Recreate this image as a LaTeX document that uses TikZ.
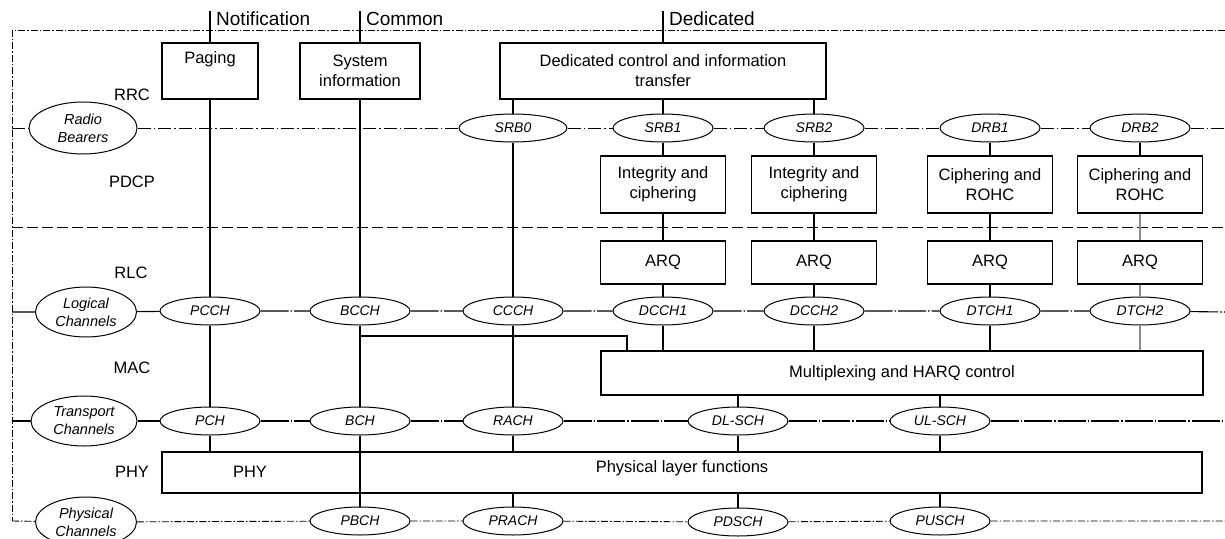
\documentclass[tikz,border=0pt]{standalone}
\usepackage{fontspec}
\setmainfont{Liberation Sans}
\usetikzlibrary{shapes.geometric}
\begin{document}
\begin{tikzpicture}[x=1pt,y=-1pt,
  blk/.style={draw, line width=1.3pt, align=center, inner sep=0pt, font=\fontsize{16.5}{20}\selectfont},
  ch/.style={draw, ellipse, fill=white, line width=1pt, minimum width=100pt, minimum height=28pt, inner sep=0pt, font=\fontsize{14}{17}\selectfont\itshape},
  grp/.style={ch, minimum width=106pt, minimum height=50pt, align=center, font=\fontsize{14.5}{18}\selectfont\itshape},
  lay/.style={inner sep=0pt, font=\fontsize{16.5}{20}\selectfont},
  toplab/.style={anchor=west, inner sep=0pt, font=\fontsize{19}{22}\selectfont},
  conn/.style={line width=1.2pt},
  greyconn/.style={line width=1.2pt, draw=black!45},
  bord/.style={line width=0.9pt, dash pattern=on 7pt off 2pt on 1.5pt off 2pt},
  rbl/.style={line width=1pt, dash pattern=on 13pt off 3pt on 1.5pt off 3pt},
  pdl/.style={line width=1pt, dash pattern=on 11pt off 4pt},
  chl/.style={line width=1.1pt, dash pattern=on 28pt off 2pt on 1.5pt off 2pt}]
\useasboundingbox (0,0) rectangle (1225,538);
\fill[white] (0,0) rectangle (1225,538);

% RRC boxes
\node[blk, minimum width=96pt, minimum height=56pt] (paging) at (210,71) {Paging\\\strut};
\node[blk, minimum width=120pt, minimum height=56pt] (sysinfo) at (360,71) {System\\information};
\node[blk, minimum width=326pt, minimum height=56pt] (ded) at (663,71) {Dedicated control and information\\transfer};

% PDCP boxes
\node[blk, minimum width=125pt, minimum height=57pt] (integ1) at (663,184.5) {Integrity and\\ciphering};
\node[blk, minimum width=125pt, minimum height=57pt] (integ2) at (814,184.5) {Integrity and\\ciphering};
\node[blk, minimum width=125pt, minimum height=57pt] (ciph1) at (990,184.5) {Ciphering and\\ROHC};
\node[blk, minimum width=125pt, minimum height=57pt] (ciph2) at (1140,184.5) {Ciphering and\\ROHC};

% RLC boxes
\node[blk, minimum width=125pt, minimum height=43pt] (arq1) at (663,262.5) {ARQ};
\node[blk, minimum width=125pt, minimum height=43pt] (arq2) at (814,262.5) {ARQ};
\node[blk, minimum width=125pt, minimum height=43pt] (arq3) at (990,262.5) {ARQ};
\node[blk, minimum width=125pt, minimum height=43pt] (arq4) at (1140,262.5) {ARQ};

% MAC / PHY boxes
\node[blk, minimum width=602pt, minimum height=44pt] (mux) at (902,373) {Multiplexing and HARQ control};
\node[blk, minimum width=1040pt, minimum height=41pt] (phy) at (682,472.5) {};
\node[lay] (phyin) at (250,472) {PHY};
\node[lay] (phyfn) at (682,468) {Physical layer functions};

% layer labels
\node[lay] (rrc) at (132,95) {RRC};
\node[lay] (pdcp) at (132,182) {PDCP};
\node[lay] (rlc) at (131,273) {RLC};
\node[lay] (mac) at (132,368) {MAC};
\node[lay] (phyl) at (132,472) {PHY};

% top labels
\node[toplab] (tn) at (216,19) {Notification};
\node[toplab] (tc) at (366,19) {Common};
\node[toplab] (td) at (669,19) {Dedicated};

% group ellipses
\node[grp, minimum width=108pt, minimum height=52pt] (rb) at (83,128) {Radio\\Bearers};
\node[grp, minimum width=101pt] (lc) at (86,312) {Logical\\Channels};
\node[grp] (tch) at (84,421) {Transport\\Channels};
\node[grp, minimum width=101pt] (pc) at (86,522) {Physical\\Channels};

% radio bearers
\node[ch, minimum width=108pt] (srb0) at (513,128) {SRB0};
\node[ch] (srb1) at (663,128) {SRB1};
\node[ch] (srb2) at (814,128) {SRB2};
\node[ch] (drb1) at (990,128) {DRB1};
\node[ch] (drb2) at (1140,128) {DRB2};

% logical channels
\node[ch] (pcch) at (210,311) {PCCH};
\node[ch] (bcch) at (360,311) {BCCH};
\node[ch] (ccch) at (513,311) {CCCH};
\node[ch] (dcch1) at (663,311) {DCCH1};
\node[ch] (dcch2) at (814,311) {DCCH2};
\node[ch] (dtch1) at (990,311) {DTCH1};
\node[ch] (dtch2) at (1140,311) {DTCH2};

% transport channels
\node[ch] (pch) at (210,421) {PCH};
\node[ch] (bch) at (360,421) {BCH};
\node[ch] (rach) at (513,421) {RACH};
\node[ch] (dlsch) at (738,421) {DL-SCH};
\node[ch] (ulsch) at (940,421) {UL-SCH};

% physical channels
\node[ch] (pbch) at (360,521) {PBCH};
\node[ch] (prach) at (513,521) {PRACH};
\node[ch] (pdsch) at (738,522) {PDSCH};
\node[ch] (pusch) at (940,521) {PUSCH};

% frame and layer lines
\coordinate (tl) at (12,30);
\coordinate (tr) at (1225,30);
\coordinate (bl) at (12,521);
\coordinate (br) at (1225,521);
\draw[bord] (tr) -- (tl) -- (bl);
\draw[bord] (bl) -- (pc) -- (pbch) -- (prach) -- (pdsch) -- (pusch) -- (br);

\coordinate (rbL) at (12,128);
\coordinate (rbR) at (1225,128);
\draw[rbl] (rbL) -- (rb) -- (srb0) -- (srb1) -- (srb2) -- (drb1) -- (drb2) -- (rbR);

\coordinate (pdL) at (12,227);
\coordinate (pdR) at (1225,227);
\draw[pdl] (pdL) -- (pdR);

\coordinate (lcL) at (12,312);
\coordinate (lcR) at (1225,312);
\draw[chl] (lcL) -- (lc) -- (pcch) -- (bcch) -- (ccch) -- (dcch1) -- (dcch2) -- (dtch1) -- (dtch2) -- (lcR);

\coordinate (tcL) at (12,421);
\coordinate (tcR) at (1225,421);
\draw[chl] (tcL) -- (tch) -- (pch) -- (bch) -- (rach) -- (dlsch) -- (ulsch) -- (tcR);

% Notification column
\coordinate (nT) at (210,11);
\draw[conn] (nT) -- (paging.north);
\draw[conn] (paging.south) -- (pcch.north);
\draw[conn] (pcch) -- (pch);
\draw[conn] (pch) -- (pch |- phy.north);

% Common column
\coordinate (cT) at (360,11);
\draw[conn] (cT) -- (sysinfo.north);
\draw[conn] (sysinfo.south) -- (bcch.north);
\draw[conn] (bcch) -- (bch);
\draw[conn] (bch) -- (pbch);
\coordinate (elb) at (627,336);
\draw[conn] (bcch.south |- elb) -- (elb) -- (elb |- mux.north);

% Dedicated column
\coordinate (dT) at (663,11);
\draw[conn] (dT) -- (ded.north);
\draw[conn] (ded.south -| srb0) -- (srb0.north);
\draw[conn] (ded.south) -- (srb1.north);
\draw[conn] (ded.south -| srb2) -- (srb2.north);
\draw[conn] (srb0) -- (ccch);
\draw[conn] (ccch) -- (rach);
\draw[conn] (rach) -- (rach |- phy.north);
\draw[conn] (rach |- phy.south) -- (prach);

\draw[conn] (srb1) -- (integ1) -- (arq1) -- (dcch1);
\draw[conn] (dcch1) -- (dcch1 |- mux.north);
\draw[conn] (srb2) -- (integ2) -- (arq2) -- (dcch2);
\draw[conn] (dcch2) -- (dcch2 |- mux.north);
\draw[conn] (drb1) -- (ciph1) -- (arq3) -- (dtch1);
\draw[conn] (dtch1) -- (dtch1 |- mux.north);
\draw[conn] (drb2) -- (ciph2);
\draw[greyconn] (ciph2) -- (arq4) -- (dtch2);
\draw[greyconn] (dtch2) -- (dtch2 |- mux.north);

% MAC to PHY
\draw[conn] (mux.south -| dlsch) -- (dlsch);
\draw[conn] (dlsch) -- (dlsch |- phy.north);
\draw[conn] (dlsch |- phy.south) -- (pdsch);
\draw[conn] (mux.south -| ulsch) -- (ulsch);
\draw[conn] (ulsch) -- (ulsch |- phy.north);
\draw[conn] (ulsch |- phy.south) -- (pusch);
\end{tikzpicture}
\end{document}
